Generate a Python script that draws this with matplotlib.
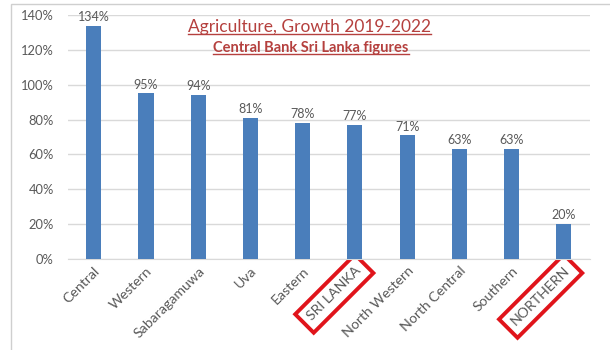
import matplotlib.pyplot as plt
from matplotlib.lines import Line2D
from matplotlib.patches import Rectangle
from matplotlib.ticker import FuncFormatter

regions = ['Central', 'Western', 'Sabaragamuwa', 'Uva', 'Eastern', 'SRI LANKA',
           'North Western', 'North Central', 'Southern', 'NORTHERN']
growth = [134, 95, 94, 81, 78, 77, 71, 63, 63, 20]
highlighted = ['SRI LANKA', 'NORTHERN']
y_ticks = [0, 20, 40, 60, 80, 100, 120, 140]

title = 'Agriculture, Growth 2019-2022'
subtitle = 'Central Bank Sri Lanka figures'

plt.rcParams['font.family'] = ['Lato', 'DejaVu Sans']

grey = '#595959'
red_title = '#b5403e'

fig = plt.figure(figsize=(6.1, 3.5), dpi=100)
ax = fig.add_axes([0.111, 0.26, 0.856, 0.697])

bars = ax.bar(range(len(regions)), growth, width=0.29, color='#4a7ebb', zorder=3)
ax.bar_label(bars, labels=[f'{v}%' for v in growth], padding=2,
             fontsize=9, color=grey)

ax.set_xlim(-0.5, len(regions) - 0.5)
ax.set_ylim(0, 140)
ax.set_yticks(y_ticks)
ax.yaxis.set_major_formatter(FuncFormatter(lambda v, _: f'{v:.0f}%'))
ax.tick_params(axis='y', length=0, pad=10, labelsize=9.3, labelcolor=grey)
ax.tick_params(axis='x', length=0, pad=4, labelsize=10.2, labelcolor=grey)
ax.grid(axis='y', color='#d9d9d9', linewidth=1, zorder=0)
for side in ['top', 'right', 'left']:
    ax.spines[side].set_visible(False)
ax.spines['bottom'].set_color('#d9d9d9')

ax.set_xticks(range(len(regions)))
ax.set_xticklabels(regions, rotation=45, ha='right', rotation_mode='anchor')
for lbl in ax.get_xticklabels():
    if lbl.get_text() in highlighted:
        lbl.set_bbox(dict(boxstyle='square,pad=0.5', fc='none', ec='#e0141b', lw=2.8))

# titles inside the plot area, underlined
t1 = fig.text(0.508, 0.922, title, ha='center', va='center',
              fontsize=12.5, color=red_title)
t2 = fig.text(0.51, 0.862, subtitle, ha='center', va='center',
              fontsize=10.5, fontweight='bold', color=red_title)

fig.canvas.draw()
renderer = fig.canvas.get_renderer()
W, H = fig.bbox.width, fig.bbox.height
for t, off in [(t1, 1.5), (t2, 1.2)]:
    bb = t.get_window_extent(renderer)
    y = (bb.y0 + off) / H
    fig.add_artist(Line2D([bb.x0 / W, bb.x1 / W], [y, y], transform=fig.transFigure,
                          color=red_title, linewidth=1))

# light frame around the chart
fig.add_artist(Rectangle((11 / 610, -0.1), 1.2, 1.1 - 4 / 350, transform=fig.transFigure,
                         fill=False, ec='#cfcfcf', lw=1))

fig.savefig('out.png', dpi=100)
